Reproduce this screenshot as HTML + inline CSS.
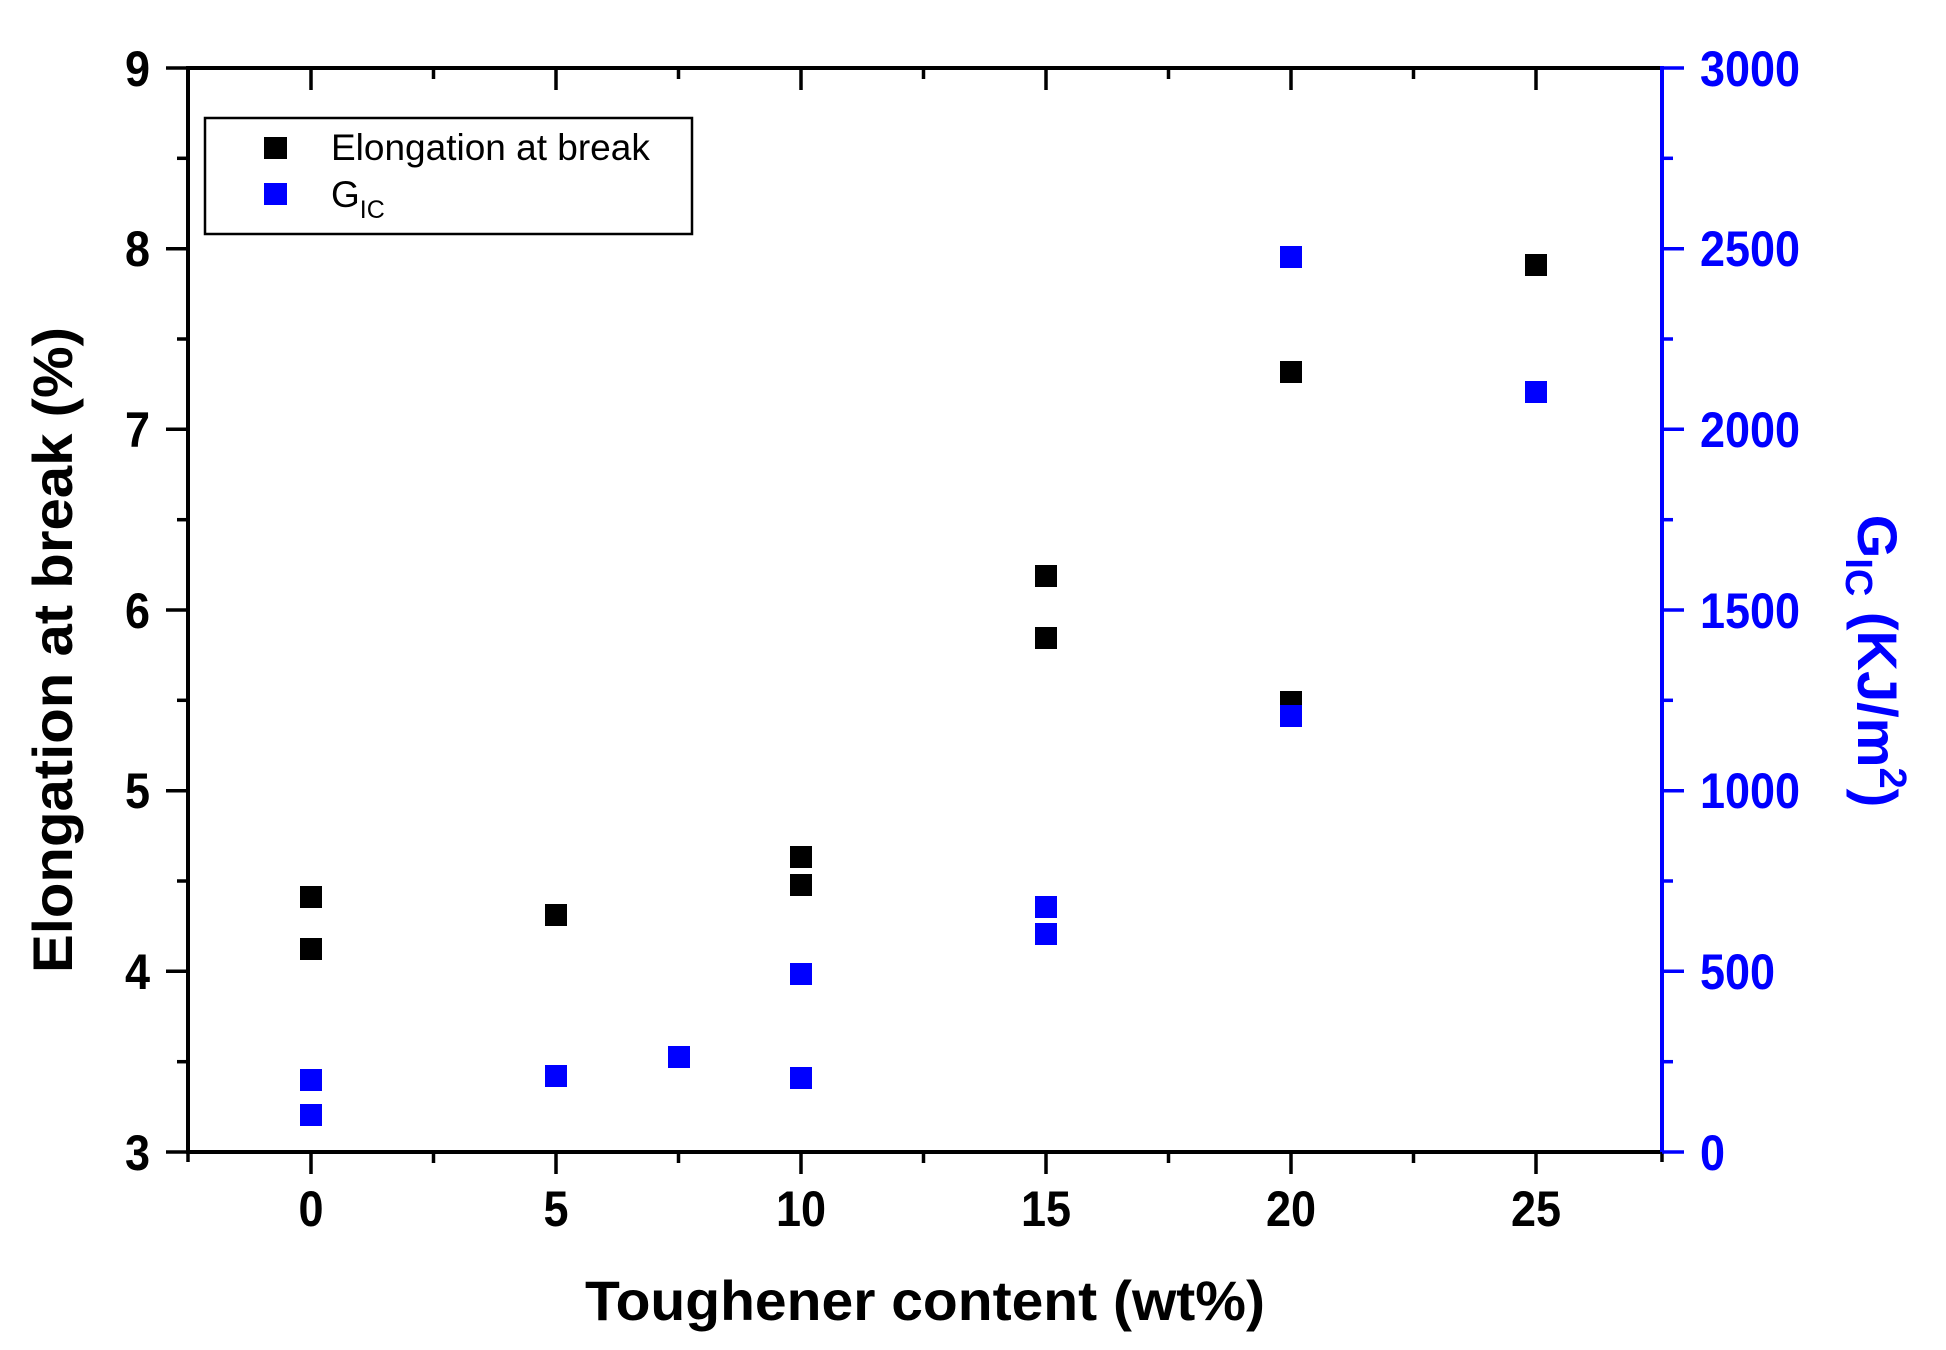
<!DOCTYPE html>
<html><head><meta charset="utf-8"><style>html,body{margin:0;padding:0;background:#fff}svg{display:block}</style></head>
<body>
<svg width="1946" height="1350" viewBox="0 0 1946 1350" xmlns="http://www.w3.org/2000/svg" font-family="Liberation Sans, Arial, sans-serif">
<rect width="1946" height="1350" fill="#fff"/>
<g stroke="#000" stroke-width="4" fill="none">
<line x1="188" y1="68" x2="1662" y2="68"/>
<line x1="188" y1="1152" x2="1662" y2="1152"/>
<line x1="188" y1="66" x2="188" y2="1154"/>
</g>
<line x1="1662" y1="66" x2="1662" y2="1154" stroke="#0000ff" stroke-width="4"/>
<g stroke="#000" stroke-width="3.5">
<line x1="188" y1="1152" x2="188" y2="1162"/>
<line x1="311" y1="1152" x2="311" y2="1174"/><line x1="311" y1="68" x2="311" y2="90"/>
<line x1="433.5" y1="1152" x2="433.5" y2="1163"/><line x1="433.5" y1="68" x2="433.5" y2="79"/>
<line x1="556" y1="1152" x2="556" y2="1174"/><line x1="556" y1="68" x2="556" y2="90"/>
<line x1="678.5" y1="1152" x2="678.5" y2="1163"/><line x1="678.5" y1="68" x2="678.5" y2="79"/>
<line x1="801" y1="1152" x2="801" y2="1174"/><line x1="801" y1="68" x2="801" y2="90"/>
<line x1="923.5" y1="1152" x2="923.5" y2="1163"/><line x1="923.5" y1="68" x2="923.5" y2="79"/>
<line x1="1046" y1="1152" x2="1046" y2="1174"/><line x1="1046" y1="68" x2="1046" y2="90"/>
<line x1="1168.5" y1="1152" x2="1168.5" y2="1163"/><line x1="1168.5" y1="68" x2="1168.5" y2="79"/>
<line x1="1291" y1="1152" x2="1291" y2="1174"/><line x1="1291" y1="68" x2="1291" y2="90"/>
<line x1="1413.5" y1="1152" x2="1413.5" y2="1163"/><line x1="1413.5" y1="68" x2="1413.5" y2="79"/>
<line x1="1536" y1="1152" x2="1536" y2="1174"/><line x1="1536" y1="68" x2="1536" y2="90"/>
<line x1="1662" y1="1152" x2="1662" y2="1162"/>
</g>
<g stroke="#000" stroke-width="3.5">
<line x1="166" y1="68" x2="188" y2="68"/>
<line x1="177" y1="158.3" x2="188" y2="158.3"/>
<line x1="166" y1="248.7" x2="188" y2="248.7"/>
<line x1="177" y1="339" x2="188" y2="339"/>
<line x1="166" y1="429.3" x2="188" y2="429.3"/>
<line x1="177" y1="519.7" x2="188" y2="519.7"/>
<line x1="166" y1="610" x2="188" y2="610"/>
<line x1="177" y1="700.3" x2="188" y2="700.3"/>
<line x1="166" y1="790.7" x2="188" y2="790.7"/>
<line x1="177" y1="881" x2="188" y2="881"/>
<line x1="166" y1="971.3" x2="188" y2="971.3"/>
<line x1="177" y1="1061.7" x2="188" y2="1061.7"/>
<line x1="166" y1="1152" x2="188" y2="1152"/>
</g>
<g font-size="50" font-weight="bold" fill="#000" text-anchor="end" transform="translate(150,0) scale(0.9,1) translate(-150,0)">
<text x="150" y="86">9</text>
<text x="150" y="266">8</text>
<text x="150" y="447">7</text>
<text x="150" y="628">6</text>
<text x="150" y="808">5</text>
<text x="150" y="989">4</text>
<text x="150" y="1170">3</text>
</g>
<g stroke="#0000ff" stroke-width="3.5">
<line x1="1662" y1="68" x2="1684" y2="68"/>
<line x1="1662" y1="158.3" x2="1673" y2="158.3"/>
<line x1="1662" y1="248.7" x2="1684" y2="248.7"/>
<line x1="1662" y1="339" x2="1673" y2="339"/>
<line x1="1662" y1="429.3" x2="1684" y2="429.3"/>
<line x1="1662" y1="519.7" x2="1673" y2="519.7"/>
<line x1="1662" y1="610" x2="1684" y2="610"/>
<line x1="1662" y1="700.3" x2="1673" y2="700.3"/>
<line x1="1662" y1="790.7" x2="1684" y2="790.7"/>
<line x1="1662" y1="881" x2="1673" y2="881"/>
<line x1="1662" y1="971.3" x2="1684" y2="971.3"/>
<line x1="1662" y1="1061.7" x2="1673" y2="1061.7"/>
<line x1="1662" y1="1152" x2="1684" y2="1152"/>
</g>
<g font-size="50" font-weight="bold" fill="#0000ff" text-anchor="start" transform="translate(1700,0) scale(0.9,1) translate(-1700,0)">
<text x="1700" y="86">3000</text>
<text x="1700" y="266">2500</text>
<text x="1700" y="447">2000</text>
<text x="1700" y="628">1500</text>
<text x="1700" y="808">1000</text>
<text x="1700" y="989">500</text>
<text x="1700" y="1170">0</text>
</g>
<g font-size="50" font-weight="bold" fill="#000" text-anchor="middle">
<text x="311" y="1226" transform="translate(311,0) scale(0.9,1) translate(-311,0)">0</text>
<text x="556" y="1226" transform="translate(556,0) scale(0.9,1) translate(-556,0)">5</text>
<text x="801" y="1226" transform="translate(801,0) scale(0.9,1) translate(-801,0)">10</text>
<text x="1046" y="1226" transform="translate(1046,0) scale(0.9,1) translate(-1046,0)">15</text>
<text x="1291" y="1226" transform="translate(1291,0) scale(0.9,1) translate(-1291,0)">20</text>
<text x="1536" y="1226" transform="translate(1536,0) scale(0.9,1) translate(-1536,0)">25</text>
</g>
<text x="925" y="1320" font-size="56" font-weight="bold" text-anchor="middle" textLength="680" lengthAdjust="spacingAndGlyphs">Toughener content (wt%)</text>
<text transform="translate(72,650) rotate(-90)" font-size="56" font-weight="bold" text-anchor="middle" textLength="646" lengthAdjust="spacingAndGlyphs">Elongation at break (%)</text>
<text transform="translate(1858,661) rotate(90)" font-size="56" font-weight="bold" fill="#0000ff" text-anchor="middle">G<tspan font-size="38" dy="12">IC</tspan><tspan dy="-12"> (KJ/m</tspan><tspan font-size="38" dy="-22">2</tspan><tspan dy="22">)</tspan></text>
<rect x="205" y="118" width="487" height="116" fill="#fff" stroke="#000" stroke-width="2.5"/>
<rect x="264" y="137" width="23" height="22" fill="#000"/>
<rect x="264" y="183" width="23" height="22" fill="#0000ff"/>
<text x="331" y="160" font-size="37" fill="#000">Elongation at break</text>
<text x="331" y="207" font-size="37" fill="#000">G<tspan font-size="25" dy="11">IC</tspan></text>
<g fill="#000">
<rect x="300" y="886" width="22" height="22"/>
<rect x="300" y="938" width="22" height="22"/>
<rect x="545" y="904" width="22" height="22"/>
<rect x="790" y="846" width="22" height="22"/>
<rect x="790" y="874" width="22" height="22"/>
<rect x="1035" y="565" width="22" height="22"/>
<rect x="1035" y="627" width="22" height="22"/>
<rect x="1280" y="361" width="22" height="22"/>
<rect x="1280" y="691" width="22" height="22"/>
<rect x="1525" y="254" width="22" height="22"/>
</g>
<g fill="#0000ff">
<rect x="300" y="1069" width="22" height="22"/>
<rect x="300" y="1104" width="22" height="22"/>
<rect x="545" y="1065" width="22" height="22"/>
<rect x="668" y="1046" width="22" height="22"/>
<rect x="790" y="963" width="22" height="22"/>
<rect x="790" y="1067" width="22" height="22"/>
<rect x="1035" y="896" width="22" height="22"/>
<rect x="1035" y="923" width="22" height="22"/>
<rect x="1280" y="246" width="22" height="22"/>
<rect x="1280" y="705" width="22" height="22"/>
<rect x="1525" y="381" width="22" height="22"/>
</g>
</svg>
</body></html>
